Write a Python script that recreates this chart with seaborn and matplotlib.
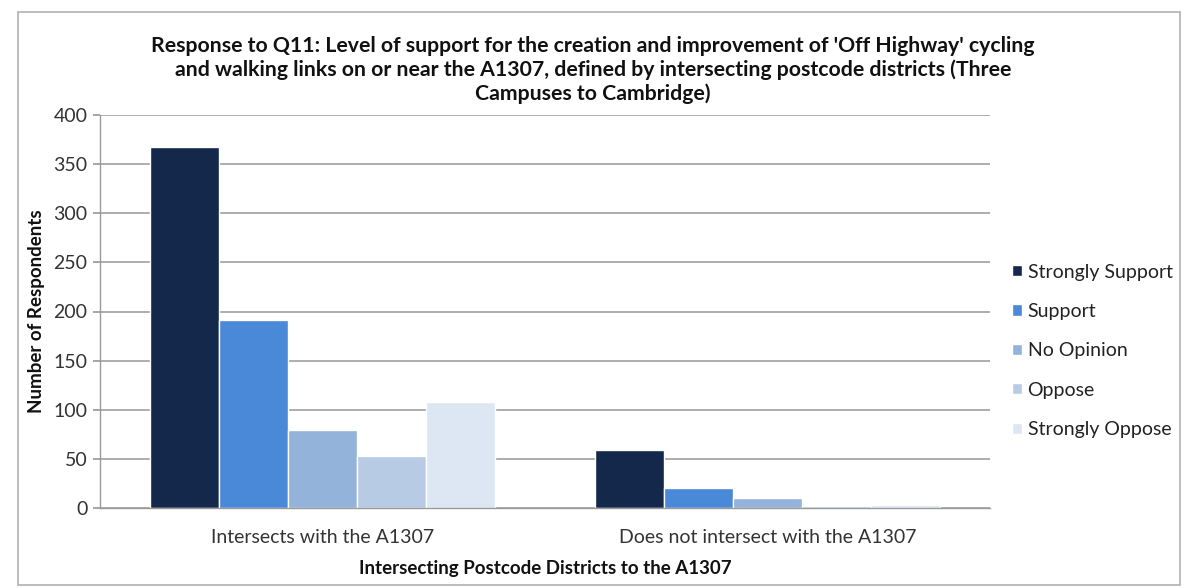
import matplotlib
matplotlib.use("Agg")
import matplotlib.pyplot as plt
import seaborn as sns
import pandas as pd
from matplotlib.patches import Rectangle

categories = ["Intersects with the A1307", "Does not intersect with the A1307"]
responses = ["Strongly Support", "Support", "No Opinion", "Oppose", "Strongly Oppose"]
strongly_support = [367, 59]
support = [191, 20]
no_opinion = [79, 10]
oppose = [53, 2]
strongly_oppose = [108, 3]
colors = ["#13284a", "#4a88d8", "#93b3da", "#b7cbe5", "#dde7f3"]

series = [strongly_support, support, no_opinion, oppose, strongly_oppose]
rows = []
for resp, vals in zip(responses, series):
    for cat, v in zip(categories, vals):
        rows.append({"Category": cat, "Response": resp, "Count": v})
df = pd.DataFrame(rows)

sns.set_theme(style="white")
plt.rcParams['font.family'] = ['Lato', 'DejaVu Sans']

fig = plt.figure(figsize=(11.9, 5.88), dpi=100)
ax = fig.add_axes([100/1190, 1-508/588, 890/1190, 393/588])

sns.barplot(data=df, x="Category", y="Count", hue="Response", hue_order=responses,
            order=categories, palette=colors, width=0.775, saturation=1,
            ax=ax, errorbar=None, legend=True)

ax.set_ylim(0, 400)
ax.set_yticks(range(0, 401, 50))
ax.yaxis.grid(True, color="#a0a0a0", linewidth=1.2)
ax.set_axisbelow(True)
for s in ["top", "right"]:
    ax.spines[s].set_visible(False)
for s in ["left", "bottom"]:
    ax.spines[s].set_color("#9a9a9a")
    ax.spines[s].set_linewidth(1.0)
ax.tick_params(axis="y", which="both", left=True, length=5, color="#9a9a9a",
               labelsize=14, labelcolor="#333333", pad=4)
ax.tick_params(axis="x", bottom=False, labelsize=14, labelcolor="#333333", pad=9)

ax.set_ylabel("Number of Respondents", fontsize=13.5, fontweight="bold", color="#111111", labelpad=6)
ax.set_xlabel("Intersecting Postcode Districts to the A1307", fontsize=13.5, fontweight="bold",
              color="#111111", labelpad=10)

fig.text(593/1190, 1-70/588,
         "Response to Q11: Level of support for the creation and improvement of 'Off Highway' cycling\n"
         "and walking links on or near the A1307, defined by intersecting postcode districts (Three\n"
         "Campuses to Cambridge)",
         ha="center", va="center", fontsize=15.3, fontweight="bold", color="#111111",
         linespacing=1.22)

leg = ax.legend(loc="center left", bbox_to_anchor=(1.005, 0.40), frameon=False,
                fontsize=14, handlelength=0.5, handleheight=0.5, handletextpad=0.3,
                labelspacing=1.15, labelcolor="#222222")

fig.patches.append(Rectangle((18/1190, 3/588), 1162/1190, 573/588, transform=fig.transFigure,
                             fill=False, edgecolor="#b0b0b0", linewidth=1.2))

fig.savefig("out.png", dpi=100, facecolor="white")
